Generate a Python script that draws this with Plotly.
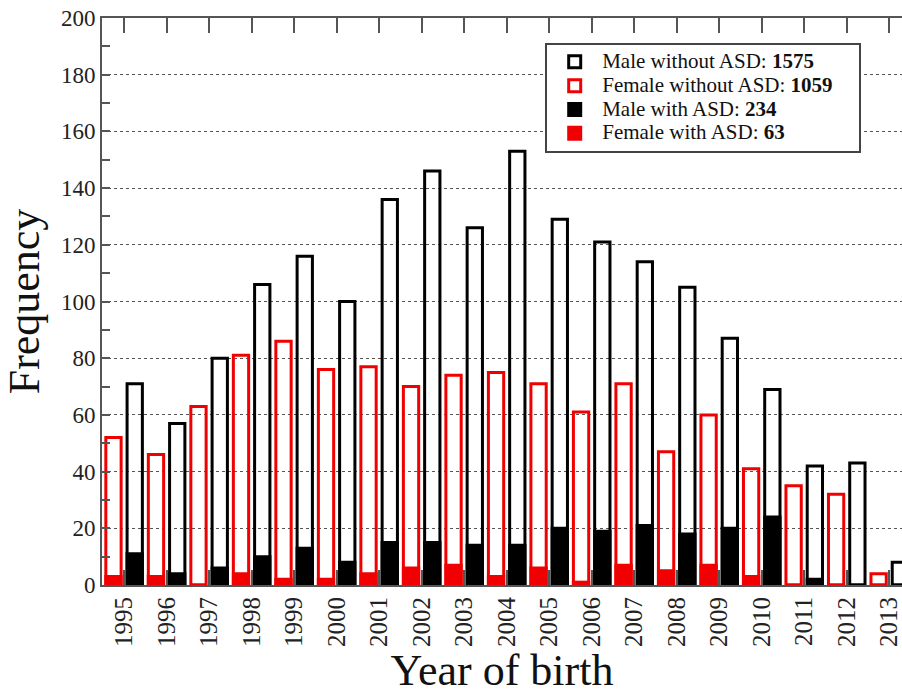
import plotly.graph_objects as go

years = list(range(1995, 2014))
male_total = [71, 57, 80, 106, 116, 100, 136, 146, 126, 153, 129, 121, 114, 105, 87, 69, 42, 43, 8]
female_total = [52, 46, 63, 81, 86, 76, 77, 70, 74, 75, 71, 61, 71, 47, 60, 41, 35, 32, 4]
male_asd = [11, 4, 6, 10, 13, 8, 15, 15, 14, 14, 20, 19, 21, 18, 20, 24, 2, 0, 0]
female_asd = [3, 3, 0, 4, 2, 2, 4, 6, 7, 3, 6, 1, 7, 5, 7, 3, 0, 0, 0]

male_wo_n = sum(male_total) - sum(male_asd)
female_wo_n = sum(female_total) - sum(female_asd)
male_asd_n = sum(male_asd)
female_asd_n = sum(female_asd)

RED = "#f00000"
BLACK = "#000000"
FONT = "Liberation Serif"
BW = 0.36
F_OFF = -0.43
M_OFF = 0.07


def lbl(text, n, pad=""):
    return f'<span style="font-size:21px">{text}: <b>{n}</b>{pad}</span>'


fig = go.Figure()
fig.add_trace(go.Bar(x=years, y=female_total, width=BW, offset=F_OFF,
                     marker=dict(color="rgba(255,255,255,0)", line=dict(color=RED, width=3)),
                     name=lbl("Female without ASD", female_wo_n, "&nbsp;&nbsp;&nbsp;&nbsp;"),
                     legendrank=2))
fig.add_trace(go.Bar(x=years, y=male_total, width=BW, offset=M_OFF,
                     marker=dict(color="rgba(255,255,255,0)", line=dict(color=BLACK, width=3)),
                     name=lbl("Male without ASD", male_wo_n), legendrank=1))
fig.add_trace(go.Bar(x=years, y=female_asd, width=BW, offset=F_OFF,
                     marker=dict(color=RED, line=dict(color=RED, width=3)),
                     name=lbl("Female with ASD", female_asd_n), legendrank=4))
fig.add_trace(go.Bar(x=years, y=male_asd, width=BW, offset=M_OFF,
                     marker=dict(color=BLACK, line=dict(color=BLACK, width=3)),
                     name=lbl("Male with ASD", male_asd_n), legendrank=3))

fig.update_layout(
    width=902, height=695,
    margin=dict(l=102, r=0, t=18, b=110, autoexpand=False),
    barmode="overlay",
    plot_bgcolor="white", paper_bgcolor="white",
    font=dict(family=FONT, color="#222"),
    legend=dict(x=0.554, y=0.956, xanchor="left", yanchor="top",
                bgcolor="white", bordercolor="#444", borderwidth=2,
                font=dict(family=FONT, size=16, color="#111"),
                itemwidth=45, traceorder="normal"),
)
fig.update_xaxes(
    range=[1994.48, 2013.30], tickvals=years, ticktext=[str(y) for y in years],
    tickangle=-90, tickfont=dict(family=FONT, size=25, color="#222"),
    ticklabeloverflow="allow",
    ticks="inside", ticklen=15, tickwidth=2, tickcolor="#555",
    showline=True, linecolor="#555", linewidth=2, mirror="ticks",
    showgrid=False, zeroline=False, automargin=False,
    title=dict(text="Year of birth", font=dict(family=FONT, size=44, color="#111"), standoff=24),
)
fig.update_yaxes(
    range=[0, 200], dtick=20, tickfont=dict(family=FONT, size=23, color="#222"),
    ticklabeloverflow="allow",
    ticks="inside", ticklen=8, tickwidth=2, tickcolor="#555",
    minor=dict(dtick=10, ticks="inside", ticklen=8, tickwidth=2, tickcolor="#555", showgrid=False),
    showline=True, linecolor="#555", linewidth=2, mirror=False,
    showgrid=True, gridcolor="#555", gridwidth=1, griddash="dot",
    zeroline=False, automargin=False,
    title=dict(text="Frequency", font=dict(family=FONT, size=44, color="#111"), standoff=28),
)

fig.write_html("out.html", config={"displayModeBar": False},
               post_script="document.body.style.margin='0';")
